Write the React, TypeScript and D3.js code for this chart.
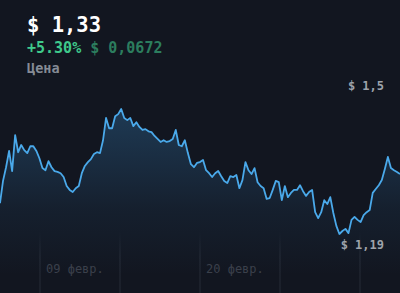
import React from "react";
import * as d3 from "d3";

const W = 400;
const H = 293;

// price series, one value every 5 hours starting 6 Feb 06:00
const startDate = new Date(2021, 1, 6, 6, 0);
const stepHours = 5;
const prices = [
  1.262, 1.314, 1.346, 1.384, 1.337, 1.421, 1.381, 1.398, 1.386, 1.379,
  1.395, 1.395, 1.384, 1.367, 1.344, 1.339, 1.36, 1.346, 1.337, 1.335,
  1.332, 1.323, 1.302, 1.293, 1.288, 1.297, 1.302, 1.332, 1.349, 1.358,
  1.365, 1.377, 1.381, 1.379, 1.409, 1.461, 1.437, 1.437, 1.465, 1.47,
  1.482, 1.461, 1.456, 1.461, 1.442, 1.451, 1.44, 1.433, 1.435, 1.43,
  1.428, 1.419, 1.412, 1.405, 1.409, 1.405, 1.407, 1.412, 1.433, 1.398,
  1.395, 1.409, 1.379, 1.353, 1.346, 1.356, 1.358, 1.363, 1.339, 1.332,
  1.323, 1.332, 1.337, 1.325, 1.314, 1.309, 1.325, 1.323, 1.328, 1.297,
  1.316, 1.358, 1.339, 1.33, 1.344, 1.311, 1.302, 1.297, 1.272, 1.274,
  1.293, 1.314, 1.311, 1.269, 1.302, 1.276, 1.286, 1.293, 1.293, 1.304,
  1.29, 1.279, 1.288, 1.293, 1.241, 1.227, 1.241, 1.269, 1.26, 1.276,
  1.239, 1.209, 1.19, 1.197, 1.202, 1.192, 1.223, 1.23, 1.223, 1.218,
  1.234, 1.241, 1.246, 1.286, 1.295, 1.304, 1.316, 1.342, 1.37, 1.344,
  1.339, 1.335, 1.33,
];

const headerPrice = "$ 1,33";
const changePct = "+5.30%";
const changeAbs = "$ 0,0672";
const seriesName = "Цена";
const maxLabel = "$ 1,5";
const minLabel = "$ 1,19";

const gridDates = [
  new Date(2021, 1, 9, 0),
  new Date(2021, 1, 14, 12),
  new Date(2021, 1, 20, 0),
  new Date(2021, 1, 25, 12),
  new Date(2021, 2, 3, 0),
];
const tickDates = [new Date(2021, 1, 9), new Date(2021, 1, 20)];
const tickLabels = ["09 февр.", "20 февр."];

const MONO = "'DejaVu Sans Mono', 'Liberation Mono', monospace";

export default function App() {
  const data = prices.map((p, i) => ({
    date: new Date(startDate.getTime() + i * stepHours * 3600 * 1000),
    value: p,
  }));
  const x = d3
    .scaleTime()
    .domain([data[0].date, data[data.length - 1].date])
    .range([0, W]);
  const [minV, maxV] = d3.extent(prices) as [number, number];
  const y = d3.scaleLinear().domain([minV, maxV]).range([234, 109]);

  const line = d3
    .line<{ date: Date; value: number }>()
    .x((d) => x(d.date))
    .y((d) => y(d.value));
  const area = d3
    .area<{ date: Date; value: number }>()
    .x((d) => x(d.date))
    .y0(H)
    .y1((d) => y(d.value));

  return (
    <svg
      width={W}
      height={H}
      style={{ position: "absolute", left: 0, top: 0, display: "block" }}
    >
      <defs>
        <linearGradient id="areaGrad" gradientUnits="userSpaceOnUse" x1="0" y1="109" x2="0" y2="275">
          <stop offset="0" stopColor="#3b8fd0" stopOpacity="0.3" />
          <stop offset="0.6" stopColor="#3b8fd0" stopOpacity="0.08" />
          <stop offset="1" stopColor="#3b8fd0" stopOpacity="0" />
        </linearGradient>
        <linearGradient id="gridGrad" gradientUnits="userSpaceOnUse" x1="0" y1="232" x2="0" y2="293">
          <stop offset="0" stopColor="#2a303b" stopOpacity="0" />
          <stop offset="0.4" stopColor="#2a303b" stopOpacity="0.8" />
          <stop offset="1" stopColor="#2a303b" stopOpacity="0.8" />
        </linearGradient>
      </defs>
      <rect x={0} y={0} width={W} height={H} fill="#121620" />
      {gridDates.map((d, i) => (
        <line
          key={i}
          x1={x(d)}
          x2={x(d)}
          y1={232}
          y2={H}
          stroke="url(#gridGrad)"
          strokeWidth={1}
        />
      ))}
      <path d={area(data) || ""} fill="url(#areaGrad)" />
      <path
        d={line(data) || ""}
        fill="none"
        stroke="#4aa9ea"
        strokeWidth={1.8}
        strokeLinejoin="round"
      />
      {tickDates.map((d, i) => (
        <text
          key={i}
          x={x(d) + 6}
          y={273}
          fontFamily={MONO}
          fontSize={12}
          fill="#3b404b"
        >
          {tickLabels[i]}
        </text>
      ))}
      <text x={384} y={90} textAnchor="end" fontFamily={MONO} fontSize={12} fontWeight="bold" fill="#9ea3ab" xmlSpace="preserve">
        {maxLabel}
      </text>
      <text x={384} y={249} textAnchor="end" fontFamily={MONO} fontSize={12} fontWeight="bold" fill="#9ea3ab" xmlSpace="preserve">
        {minLabel}
      </text>
      <text x={27} y={32} fontFamily={MONO} fontSize={20.5} fontWeight="bold" fill="#ffffff" xmlSpace="preserve">
        {headerPrice}
      </text>
      <text x={27} y={53} fontFamily={MONO} fontSize={15} fontWeight="bold" xmlSpace="preserve">
        <tspan fill="#3fc98b">{changePct}</tspan>
        <tspan fill="#2c7d5e">{" " + changeAbs}</tspan>
      </text>
      <text x={27} y={73} fontFamily={MONO} fontSize={13.5} fontWeight="bold" fill="#858b96">
        {seriesName}
      </text>
    </svg>
  );
}
